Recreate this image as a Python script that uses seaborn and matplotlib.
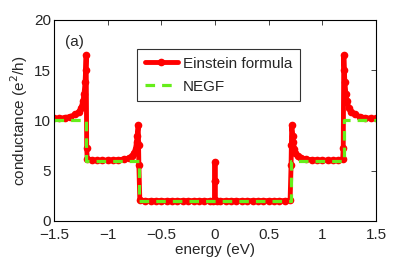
import numpy as np
import pandas as pd
import matplotlib
matplotlib.use("Agg")
import matplotlib.pyplot as plt
import seaborn as sns

# Einstein formula (red, dense points)
energy_einstein = [
    -1.50, -1.45, -1.40, -1.35, -1.30, -1.27, -1.25, -1.23, -1.22, -1.21, -1.205, -1.200,
    -1.195, -1.19, -1.15, -1.10, -1.05, -1.00, -0.95, -0.90, -0.85, -0.80, -0.77, -0.75,
    -0.74, -0.73, -0.725, -0.715, -0.712, -0.709, -0.70, -0.65, -0.60, -0.55, -0.50, -0.45,
    -0.40, -0.35, -0.30, -0.25, -0.20, -0.15, -0.10, -0.05, -0.02, -0.004, -0.002, 0.0,
    0.002, 0.004, 0.02, 0.05, 0.10, 0.15, 0.20, 0.25, 0.30, 0.35, 0.40, 0.45,
    0.50, 0.55, 0.60, 0.65, 0.70, 0.709, 0.712, 0.715, 0.725, 0.73, 0.74, 0.75,
    0.77, 0.80, 0.85, 0.90, 0.95, 1.00, 1.05, 1.10, 1.15, 1.19, 1.195, 1.200,
    1.205, 1.21, 1.22, 1.23, 1.25, 1.27, 1.30, 1.35, 1.40, 1.45, 1.50,
]
g_einstein = [
    10.20, 10.22, 10.28, 10.38, 10.60, 10.85, 11.20, 11.90, 12.60, 13.80, 15.00, 16.50,
    7.30, 6.15, 6.08, 6.05, 6.05, 6.06, 6.08, 6.10, 6.15, 6.25, 6.45, 6.80,
    7.20, 7.90, 8.50, 9.50, 7.60, 5.60, 2.05, 2.02, 2.02, 2.02, 2.02, 2.02,
    2.02, 2.02, 2.02, 2.02, 2.02, 2.02, 2.02, 2.02, 2.02, 2.05, 4.00, 5.90,
    4.00, 2.05, 2.02, 2.02, 2.02, 2.02, 2.02, 2.02, 2.02, 2.02, 2.02, 2.02,
    2.02, 2.02, 2.02, 2.02, 2.05, 5.60, 7.60, 9.50, 8.50, 7.90, 7.20, 6.80,
    6.45, 6.25, 6.15, 6.10, 6.08, 6.06, 6.05, 6.05, 6.08, 6.15, 7.30, 16.50,
    15.00, 13.80, 12.60, 11.90, 11.20, 10.85, 10.60, 10.38, 10.28, 10.22, 10.20,
]

# NEGF (green dashed step)
energy_negf = [-1.5, -1.2, -1.2, -0.71, -0.71, 0.71, 0.71, 1.2, 1.2, 1.5]
g_negf = [10, 10, 6, 6, 2, 2, 6, 6, 10, 10]

df_e = pd.DataFrame({'energy': energy_einstein, 'g': g_einstein})
df_n = pd.DataFrame({'energy': energy_negf, 'g': g_negf})

sns.set_style('white')
plt.rcParams['font.family'] = ['Liberation Sans', 'DejaVu Sans']
plt.rcParams['font.size'] = 11

fig = plt.figure(figsize=(4.15, 2.59), dpi=100)
ax = fig.add_axes([0.130, 0.147, 0.776, 0.776])

sns.lineplot(data=df_e, x='energy', y='g', sort=False, estimator=None, color='red',
             linewidth=3.5, marker='o', markersize=5.5, markeredgewidth=0,
             label='Einstein formula', ax=ax)
sns.lineplot(data=df_n, x='energy', y='g', sort=False, estimator=None, color='#66ee1a',
             linewidth=2.3, dashes=False, label='NEGF', ax=ax)
ax.lines[-1].set_dashes((3, 2.2))

ax.set_xlim(-1.5, 1.5)
ax.set_ylim(0, 20)
ax.set_xticks([-1.5, -1, -0.5, 0, 0.5, 1, 1.5])
ax.set_xticklabels(['\u22121.5', '\u22121', '\u22120.5', '0', '0.5', '1', '1.5'])
ax.set_yticks([0, 5, 10, 15, 20])
ax.tick_params(direction='in', top=True, right=True, length=3.5, width=0.6,
               labelsize=11)
ax.tick_params(axis='x', pad=5)
ax.tick_params(axis='y', pad=2)
for s in ax.spines.values():
    s.set_linewidth(0.8)
    s.set_color('black')

ax.set_xlabel('energy (eV)', fontsize=11, labelpad=1)
ax.set_ylabel('conductance (e$^2$/h)', fontsize=11, labelpad=3)
ax.text(0.035, 0.87, '(a)', transform=ax.transAxes, fontsize=11)

leg = ax.legend(loc='upper left', bbox_to_anchor=(0.258, 0.856), borderaxespad=0,
                frameon=True, fancybox=False, edgecolor='black', fontsize=11,
                handlelength=2.2, handletextpad=0.3, borderpad=0.5, labelspacing=0.6)
leg.get_frame().set_linewidth(0.8)
leg.legend_handles[1].set_dashes((3, 2.2))

fig.savefig('out.png', dpi=100)
